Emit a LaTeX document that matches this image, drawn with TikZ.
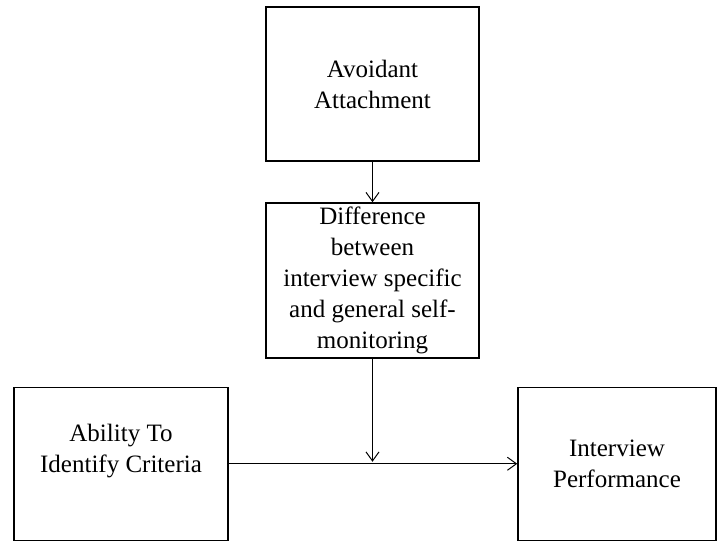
\documentclass[tikz,border=0pt]{standalone}
\usepackage{fontspec}
\setmainfont{Liberation Serif}
\usetikzlibrary{arrows.meta, positioning}

\begin{document}
\begin{tikzpicture}[x=1pt,y=-1pt,>={Straight Barb[length=9pt,width=13pt]},
  box/.style={draw,line width=1.5pt,inner sep=0pt,align=center,
    font=\fontsize{25}{31}\selectfont},
  link/.style={->,line width=1pt}]
  \useasboundingbox (0,0) rectangle (720,542);
  \node[box,minimum width=213pt,minimum height=154pt] (avoid) at (372.5,84)
    {Avoidant\\Attachment};
  \node[box,minimum width=213pt,minimum height=155pt] (diff) at (372.5,280.5)
    {Difference\\between\\interview specific\\and general self-\\monitoring};
  \node[box,minimum width=214pt,minimum height=153pt] (ability) at (121,463.75)
    {Ability To\\Identify Criteria\\\mbox{}};
  \node[box,minimum width=198pt,minimum height=153pt] (perf) at (617,463.75)
    {Interview\\Performance};
  \coordinate (mid) at (diff.south |- ability.east);
  \draw[link] (avoid) -- (diff);
  \draw[link] (ability) -- (perf);
  \draw[link,shorten >=2pt] (diff) -- (mid);
\end{tikzpicture}
\end{document}
